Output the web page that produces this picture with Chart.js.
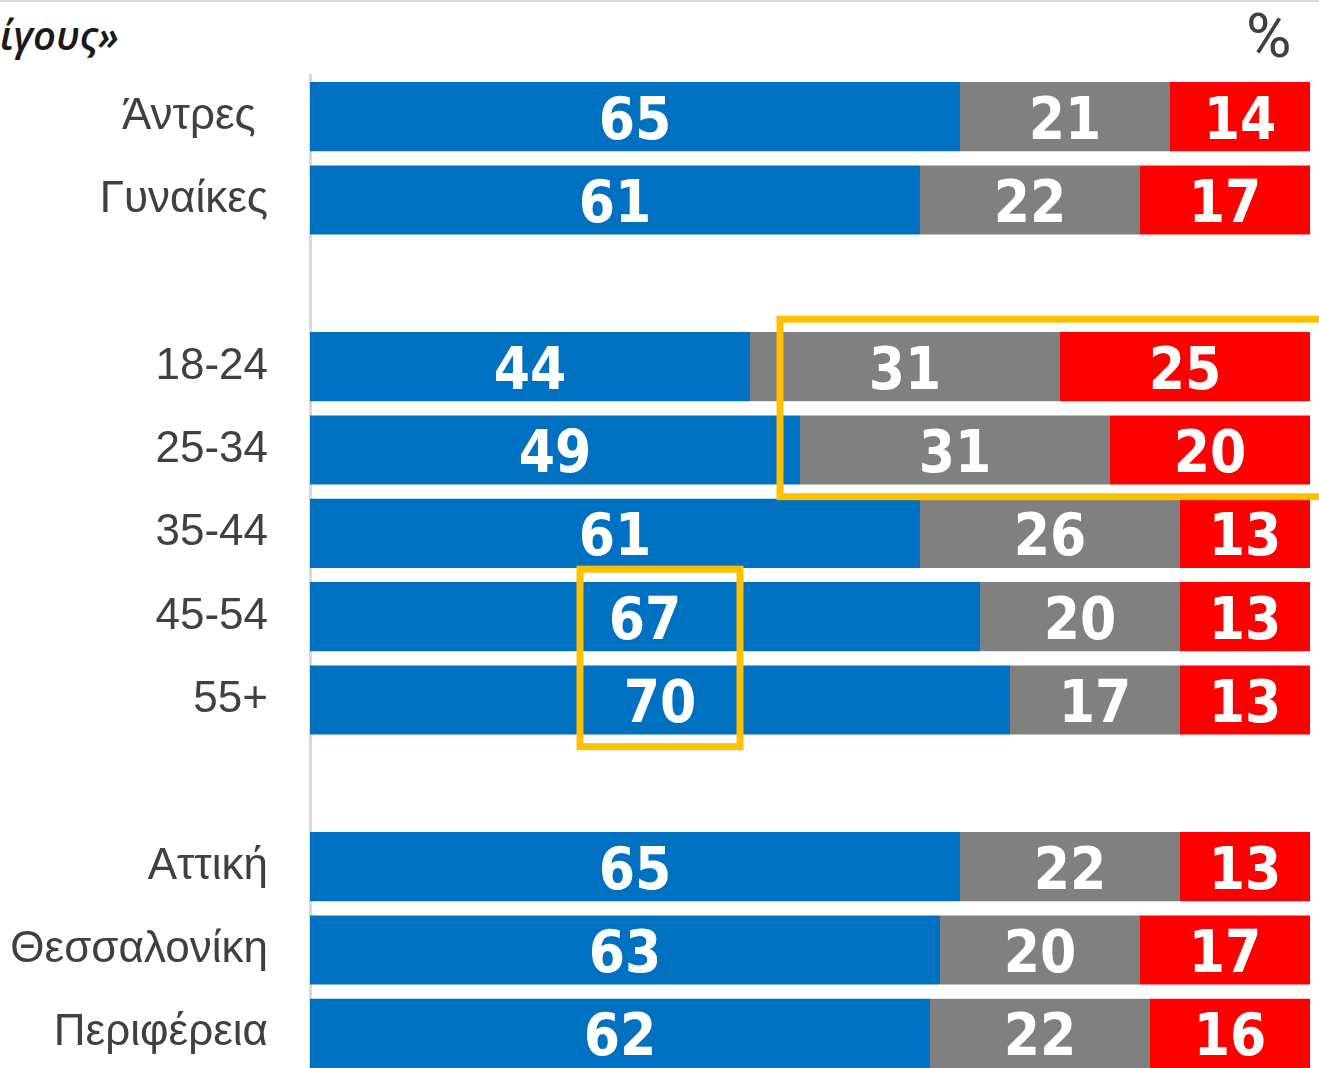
<!DOCTYPE html>
<html>
<head>
<meta charset="utf-8">
<script src="https://cdn.jsdelivr.net/npm/chart.js@4"></script>
<style>
    html, body {
        margin: 0;
        padding: 0;
        overflow: hidden;
        background: #fff;
    }
    .frame {
        position: relative;
        width: 1319px;
        height: 1080px;
        border-top: 2px solid #d9d9d9;
        box-sizing: border-box;
    }
    .title {
        position: absolute;
        left: 0;
        top: 13px;
        font: italic 600 40px 'Open Sans', sans-serif;
        line-height: 1;
        color: #1a1a1a;
        white-space: nowrap;
    }
    .unit {
        position: absolute;
        left: 1246px;
        top: 3px;
        font: 62px Roboto, sans-serif;
        line-height: 1;
        color: #404040;
    }
    #pollChart {
        position: absolute;
        left: 0;
        top: -2px;
    }
</style>
</head>
<body>
<div class="frame">
    <div class="title">ίγους»</div>
    <div class="unit">%</div>
    <canvas id="pollChart" width="1319" height="1080"></canvas>
</div>
<script>
// Categories (empty strings are the spacer rows between groups)
const categories = ['Άντρες ', 'Γυναίκες', '', '18-24', '25-34', '35-44', '45-54', '55+', '', 'Αττική', 'Θεσσαλονίκη', 'Περιφέρεια'];

// Series values (%)
const blueValues = [65, 61, null, 44, 49, 61, 67, 70, null, 65, 63, 62];
const grayValues = [21, 22, null, 31, 31, 26, 20, 17, null, 22, 20, 22];
const redValues  = [14, 17, null, 25, 20, 13, 13, 13, null, 13, 17, 16];

// Highlighted areas: category range and value range
const highlights = [
    { from: '18-24', to: '25-34', xMin: 47, xMax: 102 },
    { from: '45-54', to: '55+', xMin: 27, xMax: 43 }
];

document.addEventListener('DOMContentLoaded', function() {
    initializeChart();
});

// White numbers in the middle of each segment
const barLabels = {
    id: 'barLabels',
    afterDatasetsDraw(chart) {
        const ctx = chart.ctx;
        ctx.save();
        ctx.font = 'bold 58px "DejaVu Sans Condensed", "DejaVu Sans", sans-serif';
        ctx.fillStyle = '#ffffff';
        ctx.textAlign = 'center';
        ctx.textBaseline = 'alphabetic';
        chart.data.datasets.forEach((ds, i) => {
            chart.getDatasetMeta(i).data.forEach((bar, j) => {
                const v = ds.data[j];
                if (v == null) return;
                ctx.fillText(String(v), (bar.x + bar.base) / 2, bar.y + 22);
            });
        });
        ctx.restore();
    }
};

// Yellow frames around the highlighted bars
const highlightBoxes = {
    id: 'highlightBoxes',
    afterDraw(chart) {
        const ctx = chart.ctx;
        const x = chart.scales.x;
        const y = chart.scales.y;
        const pitch = y.getPixelForValue(1) - y.getPixelForValue(0);
        ctx.save();
        ctx.strokeStyle = '#FFC000';
        ctx.lineWidth = 7;
        highlights.forEach(h => {
            const top = y.getPixelForValue(categories.indexOf(h.from)) - pitch * 0.57;
            const bottom = y.getPixelForValue(categories.indexOf(h.to)) + pitch * 0.56;
            const left = x.getPixelForValue(h.xMin);
            const right = x.getPixelForValue(h.xMax);
            ctx.strokeRect(left, top, right - left, bottom - top);
        });
        ctx.restore();
    }
};

function initializeChart() {
    const ctx = document.getElementById('pollChart').getContext('2d');
    const pollChart = new Chart(ctx, {
        type: 'bar',
        data: {
            labels: categories,
            datasets: [
                { data: blueValues, backgroundColor: '#0070C0' },
                { data: grayValues, backgroundColor: '#808080' },
                { data: redValues, backgroundColor: '#FF0000' }
            ]
        },
        options: {
            indexAxis: 'y',
            responsive: false,
            animation: false,
            barPercentage: 0.83,
            categoryPercentage: 1,
            layout: {
                padding: { top: 75, right: 9, bottom: 5, left: 0 }
            },
            plugins: {
                legend: { display: false },
                tooltip: { enabled: false }
            },
            scales: {
                x: {
                    stacked: true,
                    min: 0,
                    max: 100,
                    display: false
                },
                y: {
                    stacked: true,
                    grid: { display: false, drawTicks: false },
                    border: { display: true, color: '#d9d9d9', width: 3 },
                    afterFit: function(scale) {
                        // fixed label column, no extra room for the labels above/below
                        scale.width = 310;
                        scale.paddingTop = 0;
                        scale.paddingBottom = 0;
                    },
                    ticks: {
                        padding: 42,
                        color: '#404040',
                        font: {
                            family: "'Liberation Sans', Arial, sans-serif",
                            size: 44
                        }
                    }
                }
            }
        },
        plugins: [barLabels, highlightBoxes]
    });
}
</script>
</body>
</html>
